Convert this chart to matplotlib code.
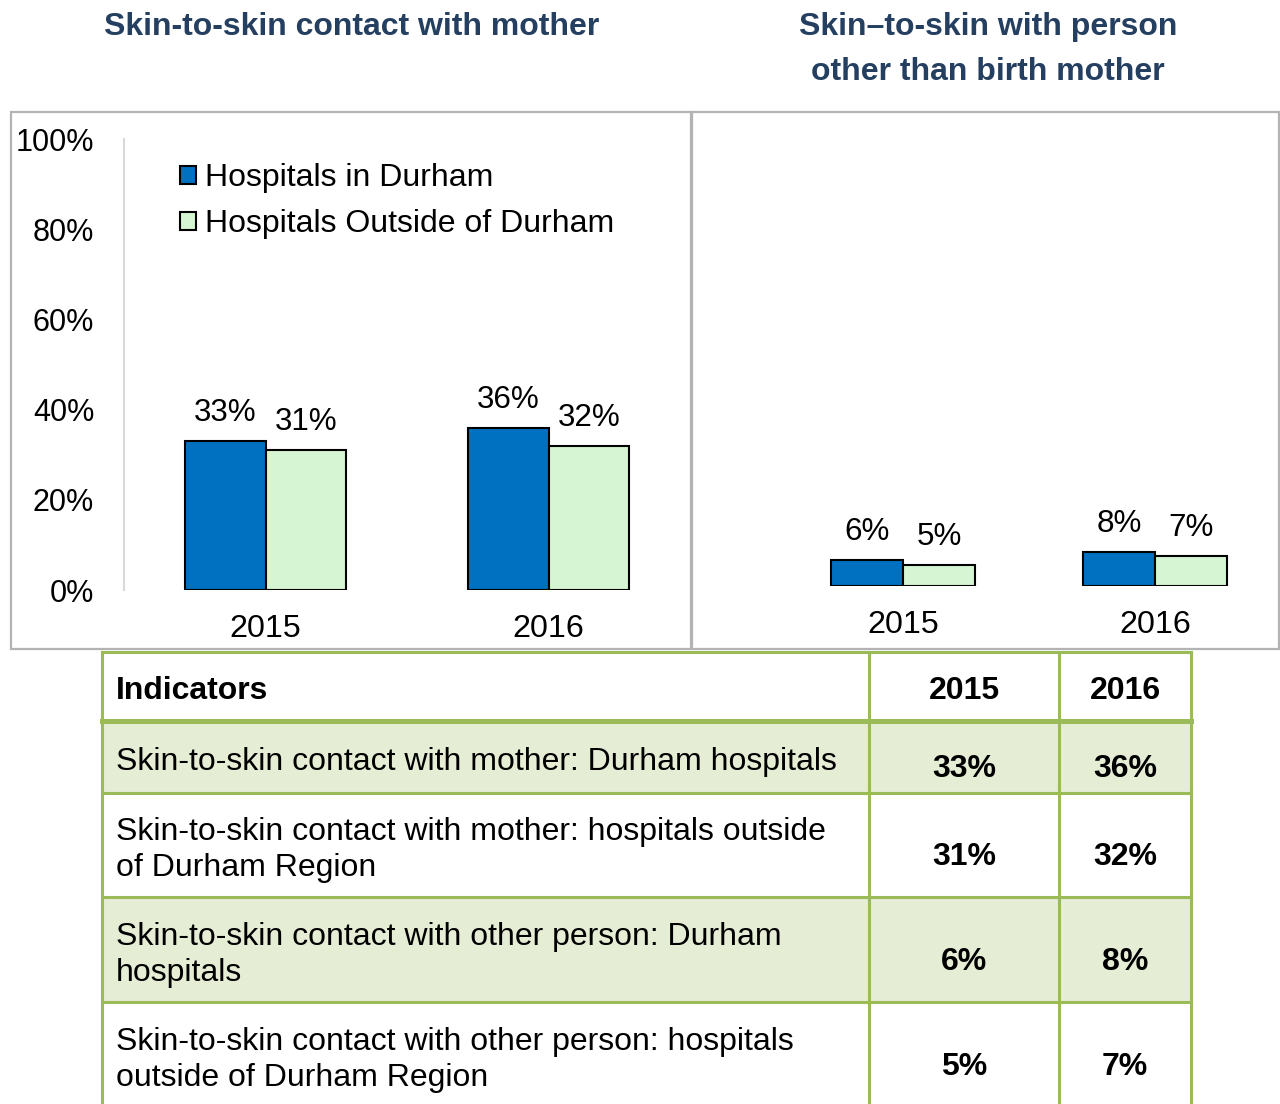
import matplotlib
matplotlib.use("Agg")
import matplotlib.pyplot as plt
import numpy as np
from matplotlib.patches import Rectangle

plt.rcParams['font.family'] = ['Liberation Sans', 'DejaVu Sans']

# ---------------- data ----------------
years = ["2015", "2016"]
mother_durham = [33, 36]
mother_outside = [31, 32]
other_durham = [6, 8]
other_outside = [5, 7]
series_labels = ["Hospitals in Durham", "Hospitals Outside of Durham"]
ytick_values = [0, 20, 40, 60, 80, 100]
ytick_labels = ["0%", "20%", "40%", "60%", "80%", "100%"]
panel_titles = ["Skin-to-skin contact with mother",
                "Skin\u2013to-skin with person\nother than birth mother"]
table_header = ["Indicators", "2015", "2016"]
indicators = [
    "Skin-to-skin contact with mother: Durham hospitals",
    "Skin-to-skin contact with mother: hospitals outside\nof Durham Region",
    "Skin-to-skin contact with other person: Durham\nhospitals",
    "Skin-to-skin contact with other person: hospitals\noutside of Durham Region",
]
table_2015 = [mother_durham[0], mother_outside[0], other_durham[0], other_outside[0]]
table_2016 = [mother_durham[1], mother_outside[1], other_durham[1], other_outside[1]]

# ---------------- style ----------------
BLUE = "#0070C0"
LGREEN = "#D6F5D2"
TITLE_C = "#243F60"
BORDER_G = "#9BBB59"
SHADE = "#E5EDD5"
PANEL_C = "#B3B3B3"
FS_TICK = 22
FS_LAB = 22.6
FS_YEAR = 23.2
FS_LEG = 23
FS_TAB = 23

W, H = 1280, 1104
fig = plt.figure(figsize=(W / 100, H / 100), dpi=100)


def fbox(x0, y0, x1, y1):
    return [x0 / W, 1 - y1 / H, (x1 - x0) / W, (y1 - y0) / H]


# background overlay axes in pixel coordinates
bg = fig.add_axes([0, 0, 1, 1], zorder=0)
bg.set_xlim(0, W)
bg.set_ylim(H, 0)
bg.axis("off")

# titles
bg.text(352, 27, panel_titles[0], ha="center", va="center", fontsize=23,
        fontweight="bold", color=TITLE_C)
for k, line in enumerate(panel_titles[1].split("\n")):
    bg.text(988, 27 + 45 * k, line, ha="center", va="center", fontsize=23,
            fontweight="bold", color=TITLE_C)

# panel boxes
bg.add_patch(Rectangle((11, 112), 680, 537, fill=False, ec=PANEL_C, lw=1.6))
bg.add_patch(Rectangle((692, 112), 587, 537, fill=False, ec=PANEL_C, lw=1.6))


def draw_bars(ax, d1, d2):
    x = np.arange(len(years))
    w = 0.286
    b1 = ax.bar(x - w / 2, d1, w, color=BLUE, edgecolor="black", lw=1.5)
    b2 = ax.bar(x + w / 2, d2, w, color=LGREEN, edgecolor="black", lw=1.5)
    for bars, vals in ((b1, d1), (b2, d2)):
        for rect, v in zip(bars, vals):
            ax.annotate(f"{v}%", (rect.get_x() + rect.get_width() / 2, v),
                        xytext=(0, 20.0), textcoords="offset points",
                        ha="center", va="center", fontsize=FS_LAB)
    ax.set_xlim(-0.5, 1.5)
    ax.set_ylim(0, 100)
    ax.set_xticks(x, years)
    ax.tick_params(axis="x", length=0, pad=17.5, labelsize=FS_YEAR)
    ax.set_facecolor("none")
    return b1, b2


# left chart
axl = fig.add_axes(fbox(124, 139, 690, 590), zorder=1)
b1, b2 = draw_bars(axl, mother_durham, mother_outside)
axl.set_yticks(ytick_values, ytick_labels)
axl.tick_params(axis="y", length=0, pad=21.5, labelsize=FS_TICK)
for s in ("top", "right", "bottom"):
    axl.spines[s].set_visible(False)
axl.spines["left"].set_color("#D9D9D9")
axl.spines["left"].set_linewidth(1.5)
axl.legend([b1, b2], series_labels, loc="upper left",
           bbox_to_anchor=(180 / W, 1 - 163 / H), bbox_transform=fig.transFigure,
           frameon=False, fontsize=FS_LEG, handlelength=0.5, handleheight=0.5,
           handletextpad=0.28, labelspacing=0.5, borderpad=0, borderaxespad=0)

# right chart
axr = fig.add_axes(fbox(777, 156, 1281, 586), zorder=1)
draw_bars(axr, other_durham, other_outside)
axr.set_yticks([])
for s in axr.spines.values():
    s.set_visible(False)

# ---------------- table ----------------
col_edges = [102, 869, 1059, 1191]
row_edges = [652, 721, 793, 897, 1002, 1108]
val_cx = [(col_edges[1] + col_edges[2]) / 2, (col_edges[2] + col_edges[3]) / 2]

for i in range(len(indicators)):
    if i % 2 == 0:
        r0, r1 = row_edges[i + 1], row_edges[i + 2]
        bg.add_patch(Rectangle((col_edges[0], r0), col_edges[-1] - col_edges[0],
                               r1 - r0, fc=SHADE, ec="none", zorder=1))

for k, y in enumerate(row_edges):
    bg.plot([col_edges[0], col_edges[-1]], [y, y], color=BORDER_G,
            lw=3.6 if k == 1 else 2.2, zorder=3, solid_capstyle="projecting")
for x in col_edges:
    bg.plot([x, x], [row_edges[0], row_edges[-1]], color=BORDER_G, lw=2.2,
            zorder=3, solid_capstyle="projecting")

# header
bg.text(116, 699, table_header[0], ha="left", va="baseline", fontsize=FS_TAB,
        fontweight="bold", zorder=4)
for cx, t in zip(val_cx, table_header[1:]):
    bg.text(cx, 699, t, ha="center", va="baseline", fontsize=FS_TAB,
            fontweight="bold", zorder=4)

# rows
for i, ind in enumerate(indicators):
    r0, r1 = row_edges[i + 1], row_edges[i + 2]
    c = (r0 + r1) / 2
    lines = ind.split("\n")
    base0 = c + 13 - (len(lines) - 1) * 18
    for k, line in enumerate(lines):
        bg.text(116, base0 + 36 * k, line, ha="left", va="baseline",
                fontsize=FS_TAB, zorder=4)
    for cx, v in zip(val_cx, (table_2015[i], table_2016[i])):
        bg.text(cx, c + 20, f"{v}%", ha="center", va="baseline", fontsize=FS_TAB,
                fontweight="bold", zorder=4)

fig.savefig("out.png", dpi=100)
